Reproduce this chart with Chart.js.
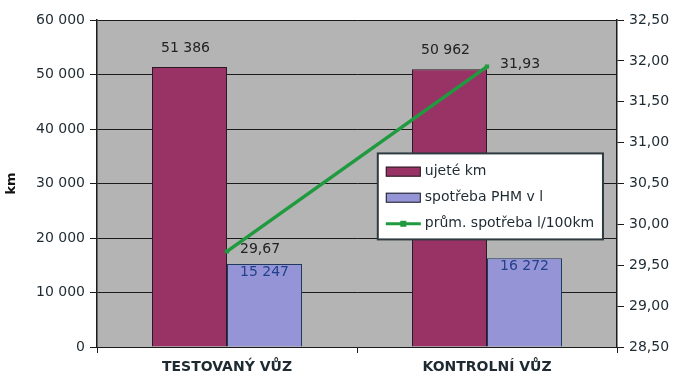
<!DOCTYPE html>
<html>
<head>
<meta charset="utf-8">
<script src="https://cdn.jsdelivr.net/npm/chart.js@4.4.1/dist/chart.umd.min.js"></script>
<style>
  html, body { margin: 0; padding: 0; background: #ffffff; }
  #wrap { width: 674px; height: 378px; }
</style>
</head>
<body>
<div id="wrap"><canvas id="c" width="674" height="378"></canvas></div>
<script>
// Vehicles compared
const categories = ['TESTOVANÝ VŮZ', 'KONTROLNÍ VŮZ'];

// Distance driven (km) and fuel used (litres)
const distanceKm = [51386, 50962];
const fuelLitres = [15247, 16272];

// Average consumption (l/100 km), right axis
const avgConsumption = [29.67, 31.93];

// Series names
const seriesNames = ['ujeté km', 'spotřeba PHM v l', 'prům. spotřeba l/100km'];

// Axis ranges and steps
const kmAxis = { min: 0, max: 60000, step: 10000 };
const consAxis = { min: 28.5, max: 32.5, step: 0.5 };

const FONT = 'DejaVu Sans, Liberation Sans, Arial, sans-serif';
const TEXT = '#1e2a32';
const LINE = '#1b1b1b';
const COL_KM = '#993366';
const COL_FUEL = '#9494d6';
const COL_AVG = '#1f9a3e';

const fmtThousands = v => String(Math.round(v)).replace(/\B(?=(\d{3})+(?!\d))/g, ' ');
const fmtDecimal = v => Number(v).toFixed(2).replace('.', ',');

// Gray fill behind the plot area
const plotBackground = {
  id: 'plotBackground',
  beforeDraw(chart) {
    const { ctx, chartArea: a } = chart;
    ctx.save();
    ctx.fillStyle = '#b4b4b4';
    ctx.fillRect(a.left, a.top, a.right - a.left, a.bottom - a.top);
    ctx.restore();
  }
};

// Value labels on bars and line points
const valueLabels = {
  id: 'valueLabels',
  afterDatasetsDraw(chart) {
    const { ctx } = chart;
    ctx.save();
    ctx.font = '14px ' + FONT;
    chart.data.datasets.forEach((ds, di) => {
      const meta = chart.getDatasetMeta(di);
      meta.data.forEach((el, i) => {
        const v = ds.data[i];
        if (ds.labelStyle === 'above') {
          ctx.fillStyle = '#222';
          ctx.textAlign = 'center';
          ctx.textBaseline = 'bottom';
          ctx.fillText(fmtThousands(v), el.x - 4, el.y - 12);
        } else if (ds.labelStyle === 'inside') {
          ctx.fillStyle = '#23418c';
          ctx.textAlign = 'center';
          ctx.textBaseline = 'top';
          ctx.fillText(fmtThousands(v), el.x, el.y + 1);
        } else if (ds.labelStyle === 'right') {
          ctx.fillStyle = '#222';
          ctx.textAlign = 'left';
          ctx.textBaseline = 'middle';
          ctx.fillText(fmtDecimal(v), el.x + 13, el.y - 2);
        }
      });
    });
    ctx.restore();
  }
};

// Boxed legend placed inside the plot area
const boxLegend = {
  id: 'boxLegend',
  afterDraw(chart) {
    const { ctx, chartArea: a } = chart;
    const w = a.right - a.left, h = a.bottom - a.top;
    const x0 = a.left + w * 0.54;
    const y0 = a.top + h * 0.408;
    const bw = w * 0.433;
    const bh = h * 0.263;
    ctx.save();
    ctx.fillStyle = '#ffffff';
    ctx.fillRect(x0, y0, bw, bh);
    ctx.strokeStyle = '#2e3a40';
    ctx.lineWidth = 2;
    ctx.strokeRect(x0, y0, bw, bh);
    ctx.font = '14px ' + FONT;
    ctx.textBaseline = 'middle';
    ctx.textAlign = 'left';
    const rowH = bh / 3.3;
    chart.data.datasets.forEach((ds, i) => {
      const cy = y0 + rowH * (0.7 + i);
      const sx = x0 + 8;
      const sw = 35;
      if (ds.type === 'line') {
        ctx.strokeStyle = ds.borderColor;
        ctx.lineWidth = 3;
        ctx.beginPath();
        ctx.moveTo(sx, cy);
        ctx.lineTo(sx + sw, cy);
        ctx.stroke();
        ctx.fillStyle = ds.borderColor;
        ctx.fillRect(sx + sw / 2 - 3, cy - 3, 6, 6);
      } else {
        ctx.fillStyle = ds.backgroundColor;
        ctx.fillRect(sx, cy - 5, sw, 10);
        ctx.strokeStyle = '#222';
        ctx.lineWidth = 1;
        ctx.strokeRect(sx + 0.5, cy - 4.5, sw - 1, 9);
      }
      ctx.fillStyle = TEXT;
      ctx.fillText(ds.label, sx + sw + 4, cy);
    });
    ctx.restore();
  }
};

const tickFont = { family: FONT, size: 14 };

new Chart(document.getElementById('c'), {
  data: {
    labels: categories,
    datasets: [
      {
        type: 'bar',
        label: seriesNames[0],
        data: distanceKm,
        yAxisID: 'y',
        backgroundColor: COL_KM,
        borderColor: '#2a1a24',
        borderWidth: 1,
        barPercentage: 1,
        categoryPercentage: 0.577,
        labelStyle: 'above',
        order: 1
      },
      {
        type: 'bar',
        label: seriesNames[1],
        data: fuelLitres,
        yAxisID: 'y',
        backgroundColor: COL_FUEL,
        borderColor: '#1f3a5a',
        borderWidth: 1,
        barPercentage: 1,
        categoryPercentage: 0.577,
        labelStyle: 'inside',
        order: 1
      },
      {
        type: 'line',
        label: seriesNames[2],
        data: avgConsumption,
        yAxisID: 'y1',
        borderColor: COL_AVG,
        backgroundColor: COL_AVG,
        borderWidth: 3.5,
        pointStyle: 'rect',
        pointRadius: 3,
        pointBorderWidth: 0,
        labelStyle: 'right',
        order: 0
      }
    ]
  },
  options: {
    responsive: false,
    animation: false,
    devicePixelRatio: 1,
    layout: { padding: { top: 20, left: 0, right: 0, bottom: 0 } },
    plugins: {
      legend: { display: false },
      tooltip: { enabled: false }
    },
    scales: {
      x: {
        position: 'bottom',
        offset: true,
        grid: { offset: true, drawOnChartArea: false, drawTicks: true, tickLength: 6, color: LINE },
        border: { display: true, color: LINE, width: 1 },
        ticks: { color: TEXT, font: { family: FONT, size: 14, weight: 'bold' }, padding: 6, maxRotation: 0 },
        afterFit(s) { s.height = 31; }
      },
      y: {
        position: 'left',
        min: kmAxis.min,
        max: kmAxis.max,
        grid: { color: LINE, lineWidth: 1, tickLength: 7 },
        border: { display: true, color: LINE, width: 1.5 },
        title: { display: true, text: 'km', color: '#111', font: { family: FONT, size: 13, weight: 'bold' }, padding: { top: 4, bottom: 0 } },
        ticks: { stepSize: kmAxis.step, color: TEXT, font: tickFont, padding: 5, callback: v => fmtThousands(v) },
        afterFit(s) { s.width = 97; }
      },
      y1: {
        position: 'right',
        min: consAxis.min,
        max: consAxis.max,
        grid: { drawOnChartArea: false, color: LINE, tickLength: 7 },
        border: { display: true, color: LINE, width: 1.5 },
        ticks: { stepSize: consAxis.step, color: TEXT, font: tickFont, padding: 5, callback: v => fmtDecimal(v) },
        afterFit(s) { s.width = 57; }
      }
    }
  },
  plugins: [plotBackground, valueLabels, boxLegend]
});
</script>
</body>
</html>
